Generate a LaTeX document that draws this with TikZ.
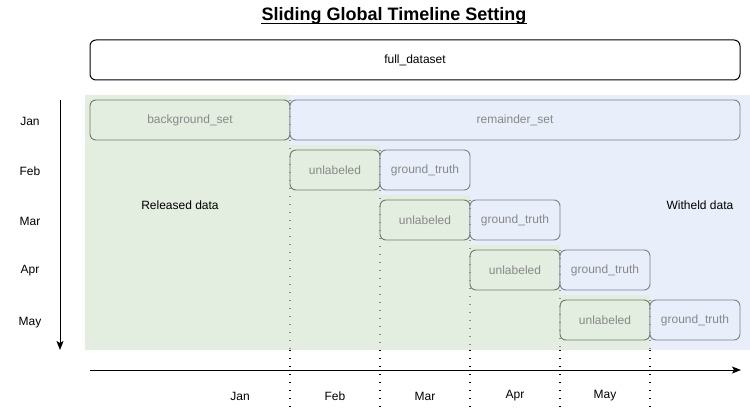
\documentclass[tikz,border=0pt]{standalone}
\usepackage{fontspec}
\setmainfont{Liberation Sans}
\usetikzlibrary{arrows.meta}
\usepackage{xcolor}

\definecolor{relgreen}{HTML}{E4EEE0}
\definecolor{witblue}{HTML}{E8EEFA}
\definecolor{greenedge}{HTML}{6E7A6E}
\definecolor{blueedge}{HTML}{7C828E}
\definecolor{labelgrey}{HTML}{888888}
\definecolor{dotgrey}{HTML}{8A8F8A}

\begin{document}
\begin{tikzpicture}[
    x=1pt, y=-1pt,
    setbox/.style={rectangle, draw, rounded corners=6pt, minimum height=40pt, inner sep=0pt, font=\fontsize{12}{14}\selectfont, text=labelgrey, line width=0.9pt},
    unl/.style={setbox, draw=greenedge, fill=relgreen, minimum width=90pt},
    truth/.style={setbox, draw=blueedge, fill=witblue, minimum width=90pt},
    month/.style={font=\fontsize{12}{14}\selectfont},
    axis/.style={-{Stealth[length=9pt, width=7pt, inset=2pt]}, line width=1pt},
    cut/.style={line width=1.4pt, dash pattern=on 1.4pt off 6.6pt}
]
    \useasboundingbox (0,0) rectangle (750,412);

    % title
    \node[font=\fontsize{18}{21}\selectfont\bfseries, inner sep=0pt] (title) at (394,16) {Sliding Global Timeline Setting};
    \draw[line width=1.4pt] ([yshift=-2.6pt]title.base west) -- ([yshift=-2.6pt]title.base east);

    % released / withheld regions
    \fill[witblue] (85,95) rectangle (750,350);
    \fill[relgreen] (85,95) -| (290,145) -| (380,195) -| (470,245) -| (560,295) -| (650,350) -- (85,350) -- cycle;

    \node[setbox, draw=black, text=black, minimum width=650pt, line width=1pt] (full) at (415,60) {full\_dataset};

    % sets per month
    \node[setbox, draw=greenedge, fill=relgreen, minimum width=200pt] (background) at (190,120) {background\_set};
    \node[setbox, draw=blueedge, fill=witblue, minimum width=450pt] (remainder) at (515,120) {remainder\_set};
    \node[unl] (unlfeb) at (335,170) {unlabeled};
    \node[truth] (truthfeb) at (425,170) {ground\_truth};
    \node[unl] (unlmar) at (425,220) {unlabeled};
    \node[truth] (truthmar) at (515,220) {ground\_truth};
    \node[unl] (unlapr) at (515,270) {unlabeled};
    \node[truth] (truthapr) at (605,270) {ground\_truth};
    \node[unl] (unlmay) at (605,320) {unlabeled};
    \node[truth] (truthmay) at (695,320) {ground\_truth};

    % cut lines
    \coordinate (cjan) at (290,100);
    \coordinate (cfeb) at (380,150);
    \coordinate (cmar) at (470,200);
    \coordinate (capr) at (560,250);
    \coordinate (cmay) at (650,300);
    \coordinate (ejan) at (290,350);
    \coordinate (efeb) at (380,350);
    \coordinate (emar) at (470,350);
    \coordinate (eapr) at (560,350);
    \coordinate (emay) at (650,350);
    \coordinate (bjan) at (290,412);
    \coordinate (bfeb) at (380,412);
    \coordinate (bmar) at (470,412);
    \coordinate (bapr) at (560,412);
    \coordinate (bmay) at (650,412);
    \draw[cut, dotgrey] (cjan) -- (ejan);
    \draw[cut, dotgrey] (cfeb) -- (efeb);
    \draw[cut, dotgrey] (cmar) -- (emar);
    \draw[cut, dotgrey] (capr) -- (eapr);
    \draw[cut, dotgrey] (cmay) -- (emay);
    \draw[cut] (ejan) -- (bjan);
    \draw[cut] (efeb) -- (bfeb);
    \draw[cut] (emar) -- (bmar);
    \draw[cut] (eapr) -- (bapr);
    \draw[cut] (emay) -- (bmay);

    \node[month] (released) at (180,205) {Released data};
    \node[month] (witheld) at (700,205) {Witheld data};

    % vertical axis
    \node[month] (rjan) at (30,121) {Jan};
    \node[month] (rfeb) at (30,171) {Feb};
    \node[month] (rmar) at (30,221) {Mar};
    \node[month] (rapr) at (30,271) {Apr};
    \node[month] (rmay) at (30,323) {May};
    \coordinate (vtop) at (60,100);
    \coordinate (vbot) at (60,350);
    \draw[axis] (vtop) -- (vbot);

    % horizontal axis
    \coordinate (hleft) at (90,370);
    \coordinate (hright) at (741,370);
    \draw[axis] (hleft) -- (hright);
    \node[month] (tjan) at (240,396) {Jan};
    \node[month] (tfeb) at (335,396) {Feb};
    \node[month] (tmar) at (425,396) {Mar};
    \node[month] (tapr) at (515,396) {Apr};
    \node[month] (tmay) at (605,396) {May};
\end{tikzpicture}
\end{document}
